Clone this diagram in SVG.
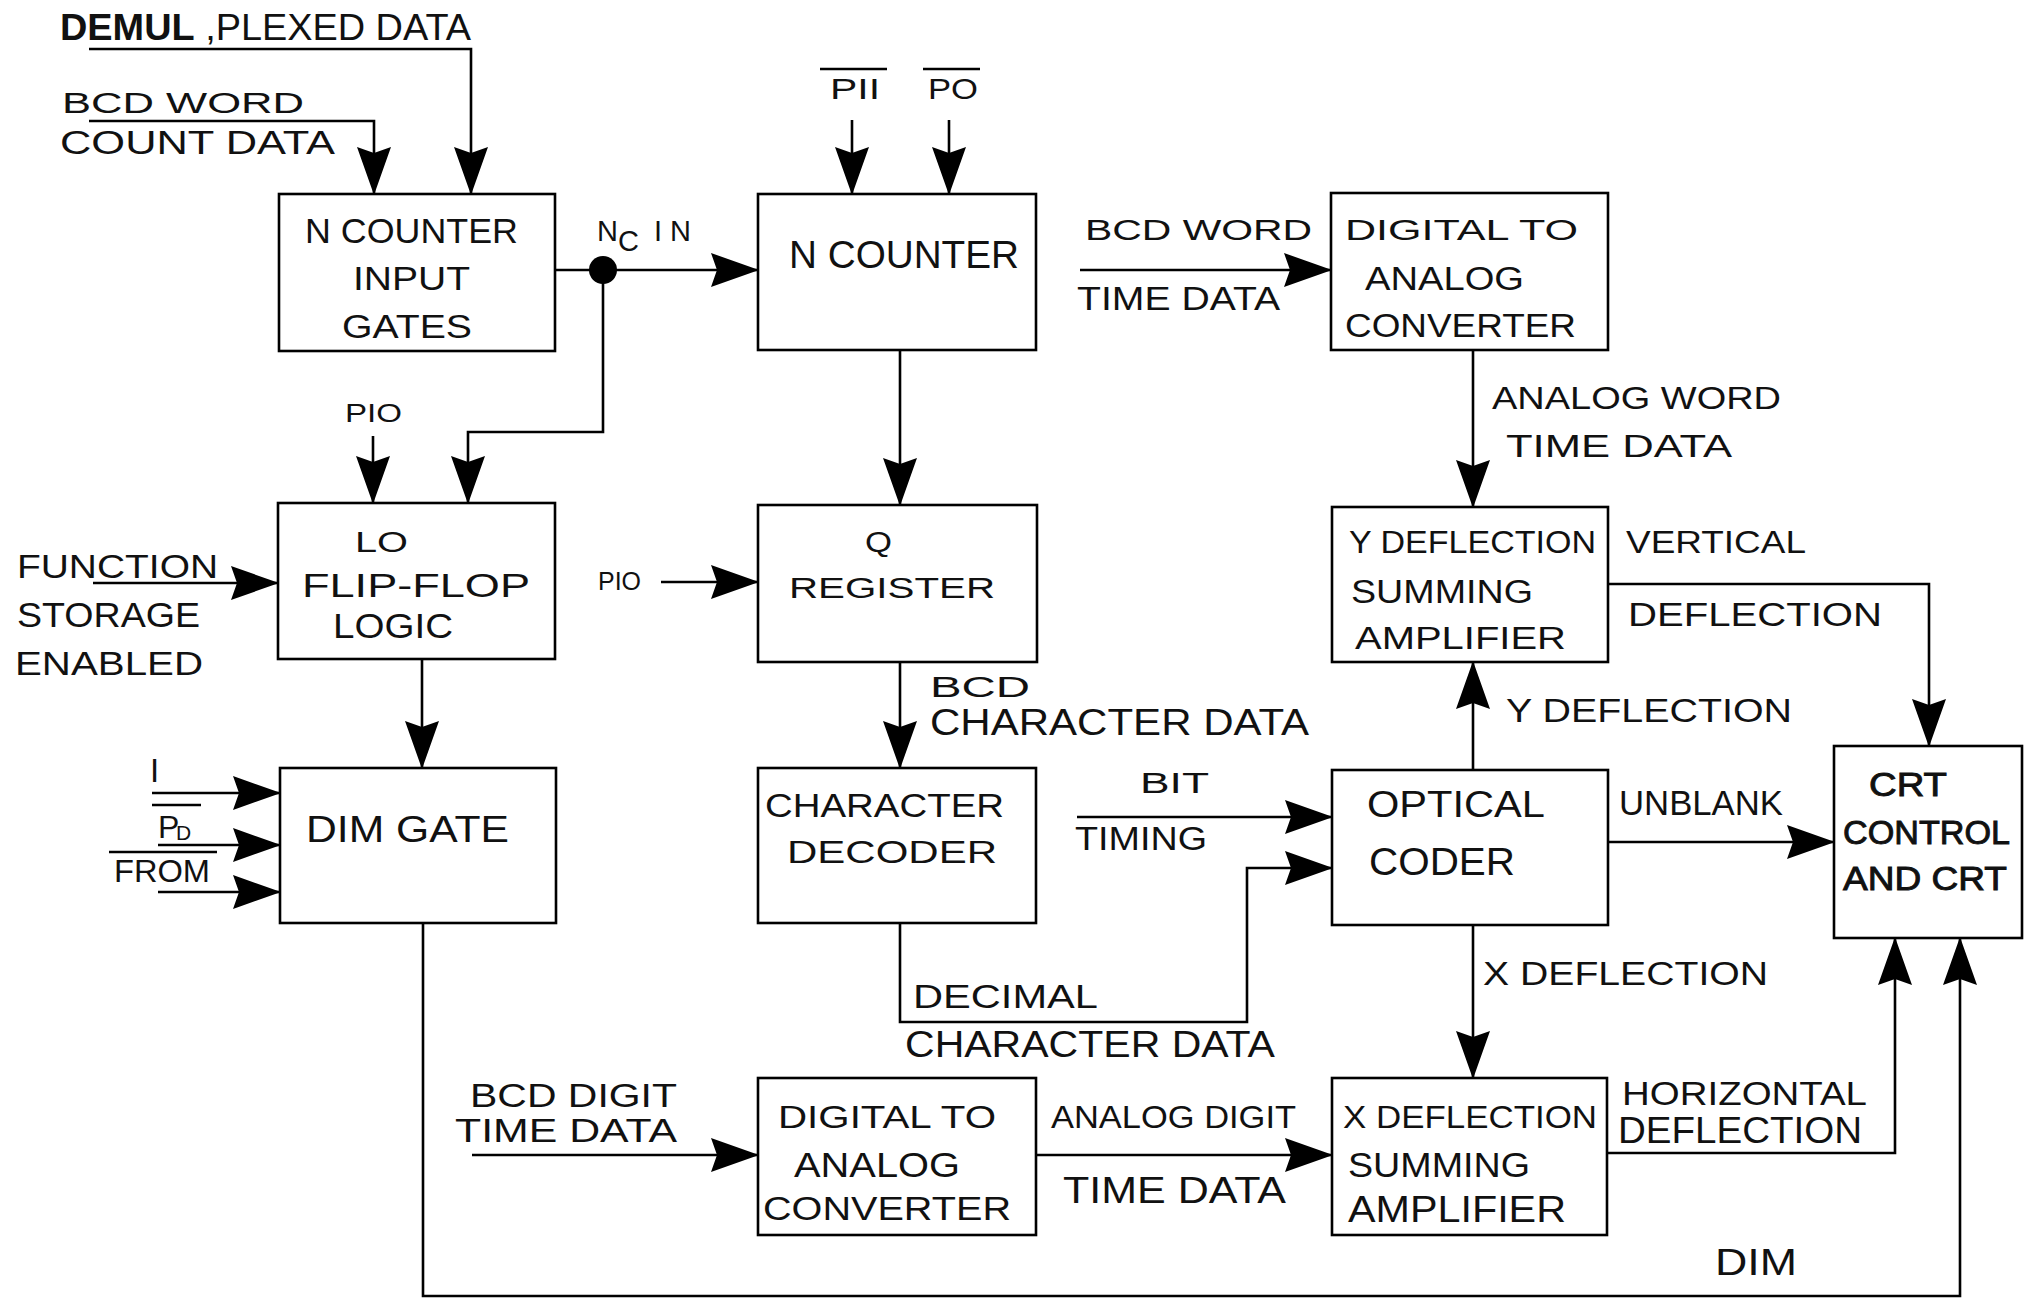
<svg xmlns="http://www.w3.org/2000/svg" width="2025" height="1299" viewBox="0 0 2025 1299">
  <style>
    .box { fill: #fff; stroke: #000; stroke-width: 2.6; }
    .wire { fill: none; stroke: #000; stroke-width: 2.6; }
    .arr { marker-end: url(#ah); }
    .bar { stroke: #000; stroke-width: 2.4; }
    text { font-family: "Liberation Sans", Arial, sans-serif; fill: #111; }
    .heavy { font-weight: bold; }
    .ink { stroke: #111; stroke-width: 0.9; }
  </style>
  <defs>
    <marker id="ah" markerUnits="userSpaceOnUse" markerWidth="48" markerHeight="34" viewBox="0 0 48 34" refX="47" refY="17" orient="auto">
      <path d="M0,0 L48,17 L0,34 L6,17 z" fill="#000"/>
    </marker>
  </defs>
  <rect width="2025" height="1299" fill="#fff"/>

  <!-- signal lines -->
  <g id="connectors">
    <path class="wire arr" d="M89,49 H471 V194"/>
    <path class="wire arr" d="M89,121 H374 V194"/>
    <path class="wire arr" d="M555,270 H758"/>
    <path class="wire arr" d="M603,270 V432 H468 V503"/>
    <circle cx="603" cy="270" r="14" fill="#000"/>
    <path class="wire arr" d="M373,436 V503"/>
    <path class="wire arr" d="M852,120 V194"/>
    <path class="wire arr" d="M949,120 V194"/>
    <path class="wire arr" d="M900,350 V505"/>
    <path class="wire arr" d="M661,582 H758"/>
    <path class="wire arr" d="M1080,270 H1331"/>
    <path class="wire arr" d="M1473,350 V507"/>
    <path class="wire arr" d="M1608,584 H1929 V746"/>
    <path class="wire arr" d="M900,662 V768"/>
    <path class="wire arr" d="M422,659 V768"/>
    <path class="wire arr" d="M93,583 H278"/>
    <path class="wire arr" d="M152,793 H280"/>
    <path class="wire arr" d="M158,845 H280"/>
    <path class="wire arr" d="M158,892 H280"/>
    <path class="wire arr" d="M1077,817 H1332"/>
    <path class="wire arr" d="M900,923 V1022 H1247 V868 H1332"/>
    <path class="wire arr" d="M1473,770 V662"/>
    <path class="wire arr" d="M1608,842 H1834"/>
    <path class="wire arr" d="M1473,925 V1078"/>
    <path class="wire arr" d="M472,1155 H758"/>
    <path class="wire arr" d="M1036,1155 H1332"/>
    <path class="wire arr" d="M1607,1153 H1895 V938"/>
    <path class="wire arr" d="M423,923 V1296 H1960 V938"/>
  </g>

  <!-- blocks -->
  <g id="n-counter-input-gates">
    <rect class="box" x="279" y="194" width="276" height="157"/>
    <text x="305" y="243" font-size="35" textLength="213" lengthAdjust="spacingAndGlyphs">N COUNTER</text>
    <text x="353" y="290" font-size="34" textLength="117" lengthAdjust="spacingAndGlyphs">INPUT</text>
    <text x="342" y="338" font-size="34" textLength="130" lengthAdjust="spacingAndGlyphs">GATES</text>
  </g>
  <g id="n-counter">
    <rect class="box" x="758" y="194" width="278" height="156"/>
    <text x="789" y="268" font-size="38" textLength="230" lengthAdjust="spacingAndGlyphs">N COUNTER</text>
  </g>
  <g id="dac-word">
    <rect class="box" x="1331" y="193" width="277" height="157"/>
    <text x="1345" y="240" font-size="30" textLength="233" lengthAdjust="spacingAndGlyphs">DIGITAL TO</text>
    <text x="1365" y="290" font-size="33" textLength="159" lengthAdjust="spacingAndGlyphs">ANALOG</text>
    <text x="1345" y="337" font-size="33" textLength="231" lengthAdjust="spacingAndGlyphs">CONVERTER</text>
  </g>
  <g id="lo-flip-flop-logic">
    <rect class="box" x="278" y="503" width="277" height="156"/>
    <text x="355" y="552" font-size="30" textLength="53" lengthAdjust="spacingAndGlyphs">LO</text>
    <text x="302" y="597" font-size="34" textLength="228" lengthAdjust="spacingAndGlyphs">FLIP-FLOP</text>
    <text x="333" y="638" font-size="35" textLength="120" lengthAdjust="spacingAndGlyphs">LOGIC</text>
  </g>
  <g id="q-register">
    <rect class="box" x="758" y="505" width="279" height="157"/>
    <text x="865" y="552" font-size="30" textLength="27" lengthAdjust="spacingAndGlyphs">Q</text>
    <text x="789" y="598" font-size="30" textLength="206" lengthAdjust="spacingAndGlyphs">REGISTER</text>
  </g>
  <g id="y-deflection-amp">
    <rect class="box" x="1332" y="507" width="276" height="155"/>
    <text x="1349" y="553" font-size="31" textLength="247" lengthAdjust="spacingAndGlyphs">Y DEFLECTION</text>
    <text x="1351" y="603" font-size="33" textLength="182" lengthAdjust="spacingAndGlyphs">SUMMING</text>
    <text x="1355" y="649" font-size="31" textLength="211" lengthAdjust="spacingAndGlyphs">AMPLIFIER</text>
  </g>
  <g id="dim-gate">
    <rect class="box" x="280" y="768" width="276" height="155"/>
    <text x="306" y="842" font-size="36" textLength="203" lengthAdjust="spacingAndGlyphs">DIM GATE</text>
  </g>
  <g id="character-decoder">
    <rect class="box" x="758" y="768" width="278" height="155"/>
    <text x="765" y="817" font-size="33" textLength="239" lengthAdjust="spacingAndGlyphs">CHARACTER</text>
    <text x="787" y="863" font-size="31" textLength="210" lengthAdjust="spacingAndGlyphs">DECODER</text>
  </g>
  <g id="optical-coder">
    <rect class="box" x="1332" y="770" width="276" height="155"/>
    <text x="1367" y="817" font-size="37" textLength="178" lengthAdjust="spacingAndGlyphs">OPTICAL</text>
    <text x="1369" y="875" font-size="38" textLength="146" lengthAdjust="spacingAndGlyphs">CODER</text>
  </g>
  <g id="crt-control">
    <rect class="box" x="1834" y="746" width="188" height="192" stroke-width="3.2"/>
    <text class="ink" x="1869" y="796" font-size="33" textLength="78" lengthAdjust="spacingAndGlyphs">CRT</text>
    <text class="ink" x="1843" y="844" font-size="33" textLength="167" lengthAdjust="spacingAndGlyphs">CONTROL</text>
    <text class="ink" x="1843" y="890" font-size="33" textLength="164" lengthAdjust="spacingAndGlyphs">AND CRT</text>
  </g>
  <g id="dac-digit">
    <rect class="box" x="758" y="1078" width="278" height="157"/>
    <text x="778" y="1128" font-size="31" textLength="218" lengthAdjust="spacingAndGlyphs">DIGITAL TO</text>
    <text x="794" y="1177" font-size="35" textLength="166" lengthAdjust="spacingAndGlyphs">ANALOG</text>
    <text x="763" y="1220" font-size="34" textLength="248" lengthAdjust="spacingAndGlyphs">CONVERTER</text>
  </g>
  <g id="x-deflection-amp">
    <rect class="box" x="1332" y="1078" width="275" height="157"/>
    <text x="1343" y="1128" font-size="31" textLength="254" lengthAdjust="spacingAndGlyphs">X DEFLECTION</text>
    <text x="1348" y="1177" font-size="35" textLength="182" lengthAdjust="spacingAndGlyphs">SUMMING</text>
    <text x="1348" y="1222" font-size="36" textLength="218" lengthAdjust="spacingAndGlyphs">AMPLIFIER</text>
  </g>

  <!-- signal names -->
  <g id="labels">
    <text x="60" y="40" font-size="37" textLength="411" lengthAdjust="spacingAndGlyphs"><tspan class="heavy">DEMUL</tspan> ,PLEXED DATA</text>
    <text x="62" y="113" font-size="30" textLength="242" lengthAdjust="spacingAndGlyphs">BCD WORD</text>
    <text x="60" y="154" font-size="33" textLength="275" lengthAdjust="spacingAndGlyphs">COUNT DATA</text>
    <text font-size="29"><tspan x="597" y="241">N</tspan><tspan x="618" y="251">C</tspan><tspan x="654" y="241" letter-spacing="8">IN</tspan></text>
    <text x="830" y="99" font-size="30" textLength="50" lengthAdjust="spacingAndGlyphs">PII</text>
    <line class="bar" x1="820" y1="69" x2="887" y2="69"/>
    <text x="928" y="99" font-size="30" textLength="50" lengthAdjust="spacingAndGlyphs">PO</text>
    <line class="bar" x1="923" y1="69" x2="980" y2="69"/>
    <text x="1085" y="240" font-size="30" textLength="227" lengthAdjust="spacingAndGlyphs">BCD WORD</text>
    <text x="1077" y="310" font-size="33" textLength="203" lengthAdjust="spacingAndGlyphs">TIME DATA</text>
    <text x="1492" y="409" font-size="31" textLength="289" lengthAdjust="spacingAndGlyphs">ANALOG WORD</text>
    <text x="1506" y="457" font-size="31" textLength="226" lengthAdjust="spacingAndGlyphs">TIME DATA</text>
    <text x="345" y="422" font-size="26" textLength="57" lengthAdjust="spacingAndGlyphs">PIO</text>
    <text x="17" y="578" font-size="34" textLength="201" lengthAdjust="spacingAndGlyphs">FUNCTION</text>
    <text x="17" y="627" font-size="35" textLength="183" lengthAdjust="spacingAndGlyphs">STORAGE</text>
    <text x="15" y="675" font-size="34" textLength="188" lengthAdjust="spacingAndGlyphs">ENABLED</text>
    <text x="598" y="590" font-size="26" textLength="43" lengthAdjust="spacingAndGlyphs">PIO</text>
    <text x="1626" y="553" font-size="31" textLength="180" lengthAdjust="spacingAndGlyphs">VERTICAL</text>
    <text x="1628" y="626" font-size="34" textLength="254" lengthAdjust="spacingAndGlyphs">DEFLECTION</text>
    <text x="930" y="697" font-size="30" textLength="100" lengthAdjust="spacingAndGlyphs">BCD</text>
    <text x="930" y="735" font-size="36" textLength="379" lengthAdjust="spacingAndGlyphs">CHARACTER DATA</text>
    <text x="1506" y="722" font-size="34" textLength="286" lengthAdjust="spacingAndGlyphs">Y DEFLECTION</text>
    <text x="150" y="782" font-size="33" font-family="Liberation Serif, serif">I</text>
    <line class="bar" x1="152" y1="805" x2="201" y2="805"/>
    <text font-size="32"><tspan x="158" y="838">P</tspan><tspan x="176" y="840" font-size="21">D</tspan></text>
    <line class="bar" x1="109" y1="852" x2="217" y2="852"/>
    <text x="114" y="882" font-size="32" textLength="96" lengthAdjust="spacingAndGlyphs">FROM</text>
    <text x="1140" y="793" font-size="30" textLength="69" lengthAdjust="spacingAndGlyphs">BIT</text>
    <text x="1075" y="850" font-size="33" textLength="132" lengthAdjust="spacingAndGlyphs">TIMING</text>
    <text x="1619" y="815" font-size="35" textLength="164" lengthAdjust="spacingAndGlyphs">UNBLANK</text>
    <text x="1483" y="985" font-size="33" textLength="285" lengthAdjust="spacingAndGlyphs">X DEFLECTION</text>
    <text x="913" y="1008" font-size="34" textLength="185" lengthAdjust="spacingAndGlyphs">DECIMAL</text>
    <text x="905" y="1057" font-size="37" textLength="370" lengthAdjust="spacingAndGlyphs">CHARACTER DATA</text>
    <text x="470" y="1107" font-size="33" textLength="207" lengthAdjust="spacingAndGlyphs">BCD DIGIT</text>
    <text x="455" y="1142" font-size="33" textLength="222" lengthAdjust="spacingAndGlyphs">TIME DATA</text>
    <text x="1051" y="1128" font-size="31" textLength="245" lengthAdjust="spacingAndGlyphs">ANALOG DIGIT</text>
    <text x="1063" y="1203" font-size="36" textLength="223" lengthAdjust="spacingAndGlyphs">TIME DATA</text>
    <text x="1622" y="1105" font-size="34" textLength="245" lengthAdjust="spacingAndGlyphs">HORIZONTAL</text>
    <text x="1618" y="1143" font-size="36" textLength="244" lengthAdjust="spacingAndGlyphs">DEFLECTION</text>
    <text x="1715" y="1275" font-size="36" textLength="82" lengthAdjust="spacingAndGlyphs">DIM</text>
  </g>
</svg>
